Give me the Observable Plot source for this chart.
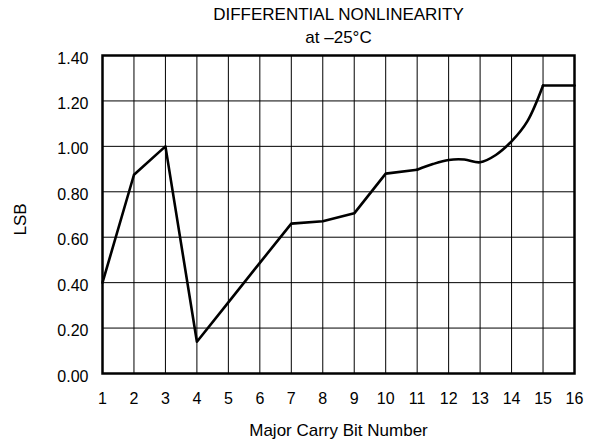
<!DOCTYPE html>
<html>
<head>
<meta charset="utf-8">
<script src="https://cdn.jsdelivr.net/npm/d3@7"></script>
<script src="https://cdn.jsdelivr.net/npm/@observablehq/plot@0.6"></script>
<style>
  html, body { margin: 0; padding: 0; background: #fff; }
  #chart svg { display: block; }
</style>
</head>
<body>
<div id="chart"></div>
<script>
// Chart text
const title = "DIFFERENTIAL NONLINEARITY";
const subtitle = "at \u201325\u00b0C";
const xLabel = "Major Carry Bit Number";
const yLabel = "LSB";

// Tick values
const xTicks = [1, 2, 3, 4, 5, 6, 7, 8, 9, 10, 11, 12, 13, 14, 15, 16];
const yTicks = [0, 0.2, 0.4, 0.6, 0.8, 1.0, 1.2, 1.4];

// Straight-segment part of the curve (bits 1..11)
const linearBits = [1, 2, 3, 4, 5, 6, 7, 8, 9, 10, 11];
const linearLSB = [0.40, 0.875, 1.00, 0.14, 0.313, 0.487, 0.66, 0.67, 0.705, 0.88, 0.897];

// Smooth part of the curve (bits 11..15)
const smoothBits = [11, 11.5, 12, 12.5, 13, 13.5, 14, 14.5, 15];
const smoothLSB = [0.897, 0.922, 0.94, 0.942, 0.93, 0.962, 1.022, 1.11, 1.268];

// Flat tail (bits 15..16)
const flatBits = [15, 16];
const flatLSB = [1.268, 1.268];

const linearData = linearBits.map((b, i) => ({bit: b, lsb: linearLSB[i]}));
const smoothData = smoothBits.map((b, i) => ({bit: b, lsb: smoothLSB[i]}));
const flatData = flatBits.map((b, i) => ({bit: b, lsb: flatLSB[i]}));

const FONT = "'Liberation Sans', Arial, Helvetica, sans-serif";
const FS = 16;
const FT = 17;

const chart = Plot.plot({
  width: 605,
  height: 445,
  marginLeft: 102,
  marginRight: 31,
  marginTop: 55,
  marginBottom: 72,
  style: {fontFamily: FONT, fontSize: FS + "px", color: "#000", background: "#fff"},
  x: {domain: [1, 16], label: null},
  y: {domain: [0, 1.4], label: null},
  marks: [
    Plot.gridX(xTicks, {stroke: "#000", strokeOpacity: 1, strokeWidth: 1}),
    Plot.gridY(yTicks, {stroke: "#000", strokeOpacity: 1, strokeWidth: 1}),
    Plot.line(linearData, {x: "bit", y: "lsb", stroke: "#000", strokeWidth: 2.6}),
    Plot.line(smoothData, {x: "bit", y: "lsb", stroke: "#000", strokeWidth: 2.6, curve: "catmull-rom"}),
    Plot.line(flatData, {x: "bit", y: "lsb", stroke: "#000", strokeWidth: 2.6}),
    Plot.frame({stroke: "#000", strokeWidth: 2.5}),
    Plot.axisX(xTicks, {tickSize: 0, tickPadding: 19, label: null, fontSize: FS, fill: "#000"}),
    Plot.axisY(yTicks, {tickSize: 0, tickPadding: 14, tickFormat: d3.format(".2f"), label: null, fontSize: FS, fill: "#000", dy: 3}),
    Plot.text([title], {frameAnchor: "top", lineAnchor: "middle", textAnchor: "middle", dy: -41, fontSize: FT, fill: "#000"}),
    Plot.text([subtitle], {frameAnchor: "top", lineAnchor: "middle", textAnchor: "middle", dy: -17.5, fontSize: FT, fill: "#000"}),
    Plot.text([xLabel], {frameAnchor: "bottom", lineAnchor: "middle", textAnchor: "middle", dy: 57, fontSize: FT, fill: "#000"}),
    Plot.text([yLabel], {frameAnchor: "left", lineAnchor: "middle", textAnchor: "middle", dx: -82, dy: 5, rotate: -90, fontSize: FT, fill: "#000"})
  ]
});
document.getElementById("chart").append(chart);
</script>
</body>
</html>
